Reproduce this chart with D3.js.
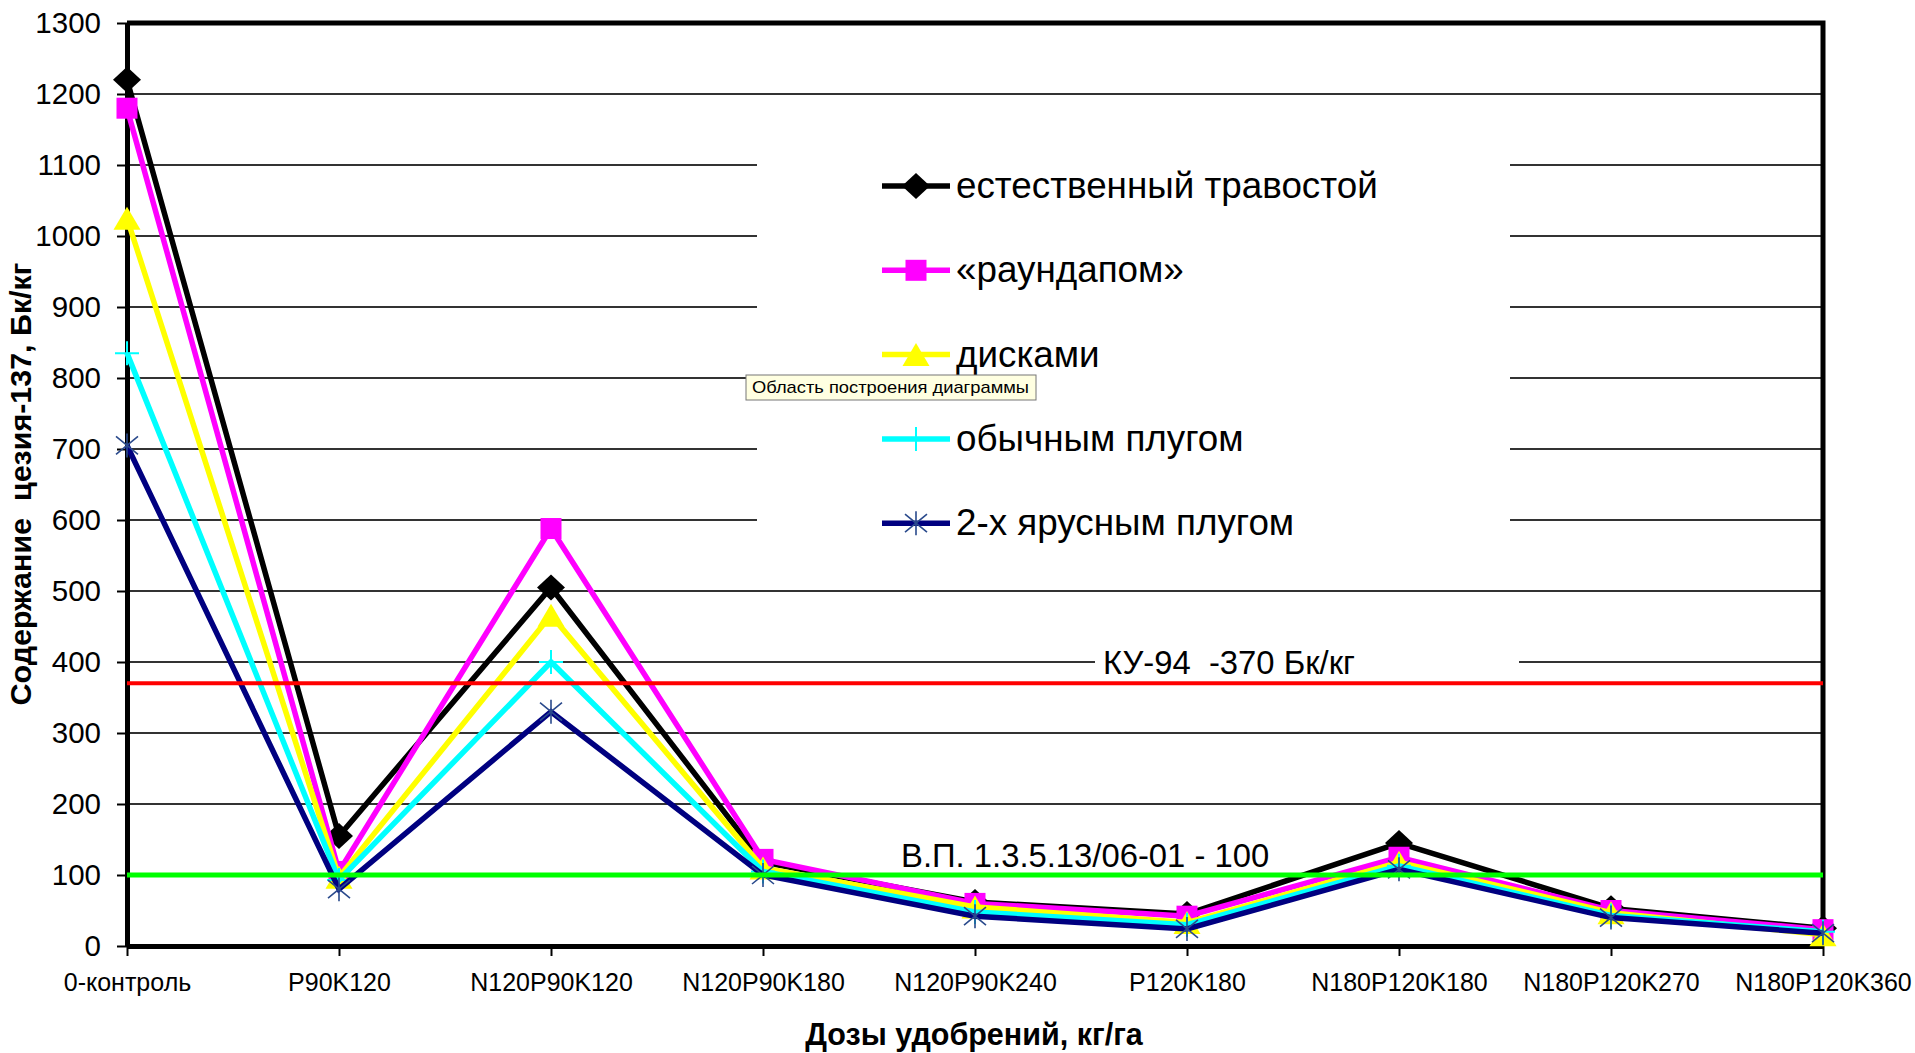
<!DOCTYPE html>
<html>
<head>
<meta charset="utf-8">
<script src="https://cdn.jsdelivr.net/npm/d3@7"></script>
<style>
  html, body { margin: 0; padding: 0; background: #fff; }
  svg { display: block; font-family: "Liberation Sans", Arial, sans-serif; }
</style>
</head>
<body>
<svg id="chart" width="1915" height="1053"></svg>
<script>
// Fertiliser doses (x categories)
const categories = ["0-контроль", "P90K120", "N120P90K120", "N120P90K180", "N120P90K240",
                    "P120K180", "N180P120K180", "N180P120K270", "N180P120K360"];

// Cs-137 content, Bq/kg, per meadow treatment
const natural       = [1220, 155, 505, 118, 62, 45, 145, 53, 25];
const roundup       = [1180, 105, 588, 122, 60, 42, 125, 50, 23];
const disks         = [1025,  97, 466, 110, 55, 33, 118, 47, 16];
const plough        = [ 835,  93, 400, 105, 48, 30, 113, 43, 20];
const twoTierPlough = [ 705,  80, 330, 100, 42, 24, 108, 40, 18];

const seriesNames = ["естественный травостой", "«раундапом»", "дисками", "обычным плугом", "2-х ярусным плугом"];

const yTicks = [0, 100, 200, 300, 400, 500, 600, 700, 800, 900, 1000, 1100, 1200, 1300];

// Permissible levels
const limitValues = [370, 100];
const limitLabels = ["КУ-94  -370 Бк/кг", "В.П. 1.3.5.13/06-01 - 100"];

const series = [
  { name: seriesNames[0], values: natural,       color: "#000000", marker: "diamond" },
  { name: seriesNames[1], values: roundup,       color: "#FF00FF", marker: "square" },
  { name: seriesNames[2], values: disks,         color: "#FFFF00", marker: "triangle" },
  { name: seriesNames[3], values: plough,        color: "#00FFFF", marker: "plus" },
  { name: seriesNames[4], values: twoTierPlough, color: "#000080", marker: "star" }
];

const svg = d3.select("#chart");
const plotLeft = 127, plotRight = 1823, plotTop = 23, plotBottom = 946;

const x = d3.scalePoint().domain(categories).range([plotLeft, plotRight]).padding(0);
const y = d3.scaleLinear().domain([0, 1300]).range([plotBottom, plotTop]);

// Horizontal gridlines
svg.append("g").selectAll("line")
  .data(yTicks.filter(v => v > 0 && v < 1300))
  .join("line")
  .attr("x1", plotLeft).attr("x2", plotRight)
  .attr("y1", d => y(d)).attr("y2", d => y(d))
  .attr("stroke", "#333").attr("stroke-width", 2);

// Legend background (hides gridlines behind it)
svg.append("rect")
  .attr("x", 757).attr("y", 120).attr("width", 753).attr("height", 440)
  .attr("fill", "#fff");

// Axes
const yAxis = svg.append("g")
  .attr("transform", `translate(${plotLeft},0)`)
  .call(d3.axisLeft(y).tickValues(yTicks).tickFormat(d3.format("d"))
    .tickSize(10).tickSizeOuter(0).tickPadding(16));
yAxis.select(".domain").attr("stroke", "#000").attr("stroke-width", 5);
yAxis.selectAll(".tick line").attr("stroke", "#000").attr("stroke-width", 2);
yAxis.selectAll(".tick text").attr("font-size", 29.5).attr("fill", "#000")
  .attr("font-family", "Liberation Sans, Arial, sans-serif");

const xAxis = svg.append("g")
  .attr("transform", `translate(0,${plotBottom})`)
  .call(d3.axisBottom(x).tickSize(10).tickSizeOuter(0).tickPadding(17));
xAxis.select(".domain").attr("stroke", "#000").attr("stroke-width", 5);
xAxis.selectAll(".tick line").attr("stroke", "#000").attr("stroke-width", 2);
xAxis.selectAll(".tick text").attr("font-size", 25).attr("fill", "#000")
  .attr("font-family", "Liberation Sans, Arial, sans-serif");

// Plot area frame (top and right edges)
svg.append("path")
  .attr("d", `M${plotLeft},${plotTop}H${plotRight}V${plotBottom}`)
  .attr("fill", "none").attr("stroke", "#000").attr("stroke-width", 5);

// Marker shapes
function drawMarker(g, type, color) {
  if (type === "diamond") {
    g.append("path").attr("d", "M0,-13L14,0L0,13L-14,0Z").attr("fill", color);
  } else if (type === "square") {
    g.append("rect").attr("x", -10.5).attr("y", -10.5).attr("width", 21).attr("height", 21).attr("fill", color);
  } else if (type === "triangle") {
    g.append("path").attr("d", "M0,-11.5L13.5,11.5L-13.5,11.5Z").attr("fill", color);
  } else if (type === "plus") {
    g.append("path").attr("d", "M-12,0H12M0,-12V12").attr("stroke", color).attr("stroke-width", 2).attr("fill", "none");
  } else if (type === "star") {
    g.append("path").attr("d", "M0,-12V12M-11,-9L11,9M-11,9L11,-9")
      .attr("stroke", "#2a4a8c").attr("stroke-width", 1.6).attr("fill", "none");
  }
}

const line = d3.line().x((d, i) => x(categories[i])).y(d => y(d));

// Series lines and markers
series.forEach(s => {
  const g = svg.append("g");
  g.append("path")
    .attr("d", line(s.values))
    .attr("fill", "none").attr("stroke", s.color)
    .attr("stroke-width", 5.5).attr("stroke-linejoin", "miter");
  s.values.forEach((v, i) => {
    const m = g.append("g").attr("transform", `translate(${x(categories[i])},${y(v)})`);
    drawMarker(m, s.marker, s.color);
  });
});

// Permissible level lines
svg.append("line")
  .attr("x1", plotLeft).attr("x2", plotRight)
  .attr("y1", y(limitValues[0])).attr("y2", y(limitValues[0]))
  .attr("stroke", "#FF0000").attr("stroke-width", 4);
svg.append("line")
  .attr("x1", plotLeft).attr("x2", plotRight)
  .attr("y1", y(limitValues[1])).attr("y2", y(limitValues[1]))
  .attr("stroke", "#00FF00").attr("stroke-width", 5);

// Level labels
svg.append("rect")
  .attr("x", 1095).attr("y", y(400) - 17).attr("width", 424).attr("height", 34)
  .attr("fill", "#fff");
svg.append("text")
  .attr("x", 1103).attr("y", y(400) + 11.5)
  .attr("font-size", 32.8).attr("fill", "#000")
  .style("white-space", "pre")
  .text(limitLabels[0]);
svg.append("text")
  .attr("x", 901).attr("y", 866.5)
  .attr("font-size", 32.8).attr("fill", "#000")
  .text(limitLabels[1]);

// Legend
const legend = svg.append("g");
series.forEach((s, i) => {
  const cy = 186 + i * 84.3;
  const row = legend.append("g");
  row.append("line").attr("x1", 882).attr("x2", 950).attr("y1", cy).attr("y2", cy)
    .attr("stroke", s.color).attr("stroke-width", 5.5);
  drawMarker(row.append("g").attr("transform", `translate(916,${cy})`), s.marker, s.color);
  row.append("text").attr("x", 956).attr("y", cy + 12)
    .attr("font-size", 36.8).attr("fill", "#000").text(s.name);
});

// Axis titles
svg.append("text")
  .attr("x", 974).attr("y", 1045)
  .attr("text-anchor", "middle").attr("font-size", 30.5).attr("font-weight", "bold")
  .attr("fill", "#000")
  .text("Дозы удобрений, кг/га");

svg.append("text")
  .attr("transform", "translate(31,484) rotate(-90)")
  .attr("text-anchor", "middle").attr("font-size", 30).attr("font-weight", "bold")
  .attr("fill", "#000")
  .attr("textLength", 443).attr("lengthAdjust", "spacingAndGlyphs")
  .style("white-space", "pre")
  .text("Содержание  цезия-137, Бк/кг");

// Hover hint box over the plot area
const tip = svg.append("g");
tip.append("rect")
  .attr("x", 746).attr("y", 375).attr("width", 290).attr("height", 25)
  .attr("fill", "#FFFFE1").attr("stroke", "#767676").attr("stroke-width", 1);
tip.append("text")
  .attr("x", 752).attr("y", 393)
  .attr("font-size", 17).attr("fill", "#000")
  .attr("textLength", 277).attr("lengthAdjust", "spacingAndGlyphs")
  .text("Область построения диаграммы");
</script>
</body>
</html>
